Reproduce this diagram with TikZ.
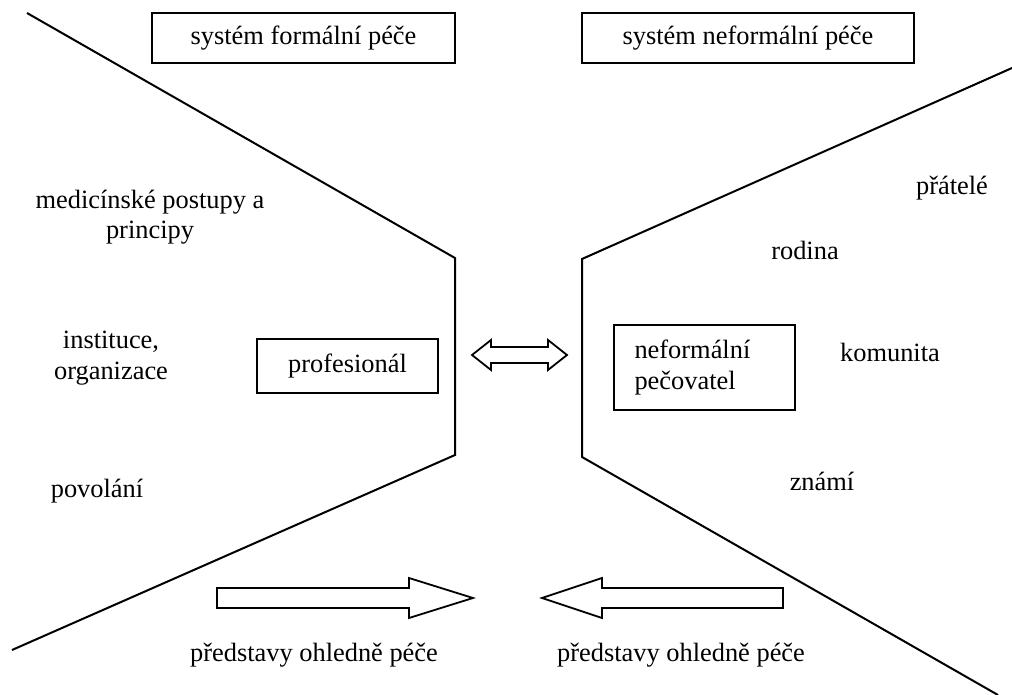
\documentclass[tikz,border=0pt]{standalone}
\usepackage{fontspec}
\setmainfont{Liberation Serif}
\begin{document}
\begin{tikzpicture}[x=1pt,y=-1pt,
  every node/.style={font=\fontsize{26.4}{30.5}\selectfont, inner sep=0pt},
  edge/.style={line width=2pt, line join=miter},
  framebox/.style={draw, line width=2pt},
  label/.style={align=center},
  outlinearrow/.style={draw, line width=1.8pt, fill=white, line join=miter}]
\useasboundingbox (0,0) rectangle (1012,695);

% funnel outlines of the two care systems
\draw[edge] (27,13) -- (455,258) -- (455,455) -- (12,650);
\draw[edge] (1012,68) -- (582,259) -- (582,457) -- (998,695);

% headings
\node[framebox, minimum width=303pt, minimum height=50pt] (formal) at (303.5,38) {systém formální péče};
\node[framebox, minimum width=332pt, minimum height=50pt] (informal) at (748,38) {systém neformální péče};

% actors
\node[framebox, minimum width=181pt, minimum height=54pt] (prof) at (347.5,366) {profesionál};
\node[framebox, minimum width=181pt, minimum height=85pt, align=left, text width=140pt] (carer) at (704.5,367.5) {neformální\\pečovatel};

% left side labels
\node[label] (med) at (150,217) {medicínské postupy a\\principy};
\node[label] (inst) at (111,358) {instituce,\\organizace};
\node[label] (job) at (97,491) {povolání};

% right side labels
\node[label] (friends) at (952,188) {přátelé};
\node[label] (family) at (805,250) {rodina};
\node[label] (community) at (890,352) {komunita};
\node[label] (known) at (822,481) {známí};

% exchange between professional and informal carer
\coordinate (dl) at (472,355);
\coordinate (dr) at (567,355);
\draw[outlinearrow] (dl) -- (491,340) -- (491,347) -- (548,347) -- (548,340) -- (dr)
  -- (548,370) -- (548,363) -- (491,363) -- (491,370) -- cycle;

% ideas about care flowing in from both sides
\coordinate (rt) at (473,598);
\coordinate (lt) at (542,598);
\draw[outlinearrow] (217,588) -- (409,588) -- (409,578) -- (rt) -- (409,618) -- (409,608) -- (217,608) -- cycle;
\draw[outlinearrow] (783,588) -- (602,588) -- (602,578) -- (lt) -- (602,618) -- (602,608) -- (783,608) -- cycle;

\node[label] (ideasL) at (314,655) {představy ohledně péče};
\node[label] (ideasR) at (681,655) {představy ohledně péče};
\end{tikzpicture}
\end{document}
